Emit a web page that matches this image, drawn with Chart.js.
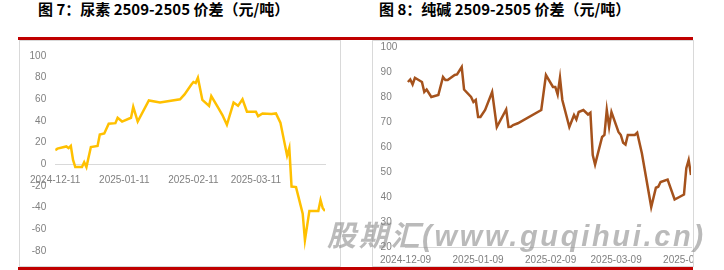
<!DOCTYPE html>
<html>
<head>
<meta charset="utf-8">
<script src="https://cdn.jsdelivr.net/npm/chart.js@4.4.1/dist/chart.umd.min.js"></script>
<style>
  body { margin: 0; width: 724px; height: 270px; background: #fff; position: relative; overflow: hidden; }
  .title { position: absolute; top: 1px; font: bold 15px/16px "Noto Sans CJK SC", sans-serif; color: #000; white-space: nowrap; }
  .redline { position: absolute; left: 18px; width: 675px; height: 3px; background: #c00000; }
  .box { position: absolute; top: 40px; width: 322px; height: 227px; border: 1px solid #d9d9d9; box-sizing: border-box; overflow: hidden; }
  .box canvas { position: absolute; left: 0; top: 0; }
  .wm { position: absolute; left: 327px; top: 221px; font: italic bold 29px/30px "Liberation Sans", "Noto Sans CJK SC", sans-serif; letter-spacing: 2.7px; color: rgba(140, 140, 140, 0.6); white-space: nowrap; }
</style>
</head>
<body>
<div class="title" style="left:38px">图 7：尿素 2509-2505 价差（元/吨）</div>
<div class="title" style="left:379px">图 8：纯碱 2509-2505 价差（元/吨）</div>
<div class="redline" style="top:37px"></div>
<div class="box" style="left:19px"><canvas id="ureaChart" width="320" height="225"></canvas></div>
<div class="box" style="left:372px"><canvas id="sodaChart" width="360" height="225"></canvas></div>
<div class="redline" style="top:267px"></div>
<div class="wm">股期汇(www.guqihui.cn)</div>

<script>
// 尿素 2509-2505 价差
const ureaDates = [
	"2024-12-11", "2024-12-12", "2024-12-16", "2024-12-17", "2024-12-18", "2024-12-19", "2024-12-20",
	"2024-12-23", "2024-12-24", "2024-12-25", "2024-12-27", "2024-12-30", "2024-12-31", "2025-01-02",
	"2025-01-04", "2025-01-07", "2025-01-08", "2025-01-10", "2025-01-14", "2025-01-15", "2025-01-17",
	"2025-01-22", "2025-01-27", "2025-02-05", "2025-02-07", "2025-02-10", "2025-02-11", "2025-02-12",
	"2025-02-13", "2025-02-15", "2025-02-18", "2025-02-19", "2025-02-22", "2025-02-24", "2025-02-26",
	"2025-03-01", "2025-03-03", "2025-03-05", "2025-03-07", "2025-03-11", "2025-03-12", "2025-03-14",
	"2025-03-18", "2025-03-20", "2025-03-22", "2025-03-25", "2025-03-26", "2025-03-27", "2025-03-29",
	"2025-04-01", "2025-04-02", "2025-04-04", "2025-04-08", "2025-04-09", "2025-04-10", "2025-04-11",
];
const ureaSpread = [
	13, 14.5, 16.5, 15, 17, 4, -2.5,
	-2.5, 2, -2.5, 16, 17, 27.5, 28.5,
	37.5, 38, 43, 39.5, 43, 53, 39.5,
	59, 57, 60, 64.5, 73.5, 76, 75,
	80, 59.5, 54, 63, 52.5, 45.5, 36.5,
	57, 54, 60, 48.5, 48.5, 44.5, 47,
	46.5, 47, 38.5, 8, 15, -20.5, -21,
	-45.5, -70, -43, -43, -33, -40.5, -43,
];
const ureaTicks = ["2024-12-11", "2025-01-11", "2025-02-11", "2025-03-11"];

// 纯碱 2509-2505 价差
const sodaDates = [
	"2024-12-10", "2024-12-11", "2024-12-12", "2024-12-13", "2024-12-16", "2024-12-17", "2024-12-18",
	"2024-12-20", "2024-12-23", "2024-12-25", "2024-12-26", "2024-12-27", "2024-12-30", "2024-12-31",
	"2025-01-02", "2025-01-03", "2025-01-06", "2025-01-07", "2025-01-08", "2025-01-09", "2025-01-10",
	"2025-01-12", "2025-01-15", "2025-01-17", "2025-01-21", "2025-01-22", "2025-01-23", "2025-01-24",
	"2025-01-26", "2025-02-05", "2025-02-07", "2025-02-10", "2025-02-11", "2025-02-12", "2025-02-13",
	"2025-02-14", "2025-02-17", "2025-02-19", "2025-02-20", "2025-02-21", "2025-02-23", "2025-02-25",
	"2025-02-26", "2025-02-27", "2025-02-28", "2025-03-03", "2025-03-04", "2025-03-05", "2025-03-06",
	"2025-03-07", "2025-03-10", "2025-03-11", "2025-03-12", "2025-03-13", "2025-03-14", "2025-03-17",
	"2025-03-18", "2025-03-20", "2025-03-24", "2025-03-26", "2025-03-27", "2025-03-28", "2025-03-31",
	"2025-04-03", "2025-04-07", "2025-04-08", "2025-04-09", "2025-04-10",
];
const sodaSpread = [
	86, 87, 85, 87.7, 86, 82, 83,
	80, 80.8, 88, 86.8, 86.8, 88.8, 89,
	92, 83, 80, 78, 78.8, 72, 72,
	74.8, 82, 68, 75, 68, 68.1, 68.8,
	69.5, 74.8, 88.8, 84, 84, 81, 87.7,
	78.8, 68, 72.8, 71, 74, 74.8, 73,
	73.7, 56.8, 53, 64, 64.8, 74.8, 68,
	74, 66, 64.8, 61.7, 61, 64.8, 64.8,
	65.7, 57.5, 36, 43.7, 44.1, 46, 47,
	39, 41, 51.5, 54.8, 48.8,
];
const sodaTicks = ["2024-12-09", "2025-01-09", "2025-02-09", "2025-03-09", "2025-04-09"];

function dayOf(d, start) {
	return (Date.parse(d) - Date.parse(start)) / 86400000;
}

const tickFont = { family: "Liberation Sans", size: 10 };
const tickColor = "#808080";

// left chart, x axis sits on the zero line
new Chart(document.getElementById("ureaChart"), {
	type: "line",
	data: {
		datasets: [{
			data: ureaDates.map((d, i) => ({ x: dayOf(d, ureaTicks[0]), y: ureaSpread[i] })),
			borderColor: "#FFC000",
			borderWidth: 2.5,
			pointRadius: 0,
			tension: 0,
			fill: false,
		}],
	},
	options: {
		responsive: false,
		animation: false,
		layout: { padding: { left: 0, right: 15, top: 14, bottom: 12 } },
		plugins: { legend: { display: false }, tooltip: { enabled: false } },
		scales: {
			x: {
				type: "linear",
				position: { y: 0 },
				min: 0,
				max: 121,
				grid: { display: false, drawTicks: false },
				border: { display: true, color: "#d9d9d9", width: 1 },
				afterBuildTicks: (s) => {
					s.ticks = ureaTicks.map((t) => ({ value: dayOf(t, ureaTicks[0]) }));
				},
				ticks: {
					autoSkip: false,
					maxRotation: 0,
					padding: 10,
					color: tickColor,
					font: tickFont,
					callback: (v, i) => ureaTicks[i],
				},
			},
			y: {
				min: -80,
				max: 100,
				grid: { display: false, drawTicks: false },
				border: { display: false },
				afterFit: (s) => { s.width = 35; },
				ticks: { stepSize: 20, padding: 9, color: tickColor, font: tickFont },
			},
		},
	},
});

// right chart, wider than its frame so the last date label is cut off
new Chart(document.getElementById("sodaChart"), {
	type: "line",
	data: {
		datasets: [{
			data: sodaDates.map((d, i) => ({ x: dayOf(d, sodaTicks[0]), y: sodaSpread[i] })),
			borderColor: "#A5521C",
			borderWidth: 2.5,
			pointRadius: 0,
			tension: 0,
			fill: false,
		}],
	},
	options: {
		responsive: false,
		animation: false,
		layout: { padding: { left: 2, right: 42, top: 6, bottom: 0 } },
		plugins: { legend: { display: false }, tooltip: { enabled: false } },
		scales: {
			x: {
				type: "linear",
				min: 0,
				max: 122,
				grid: { display: false, drawTicks: false },
				border: { display: true, color: "#d9d9d9", width: 1 },
				afterFit: (s) => { s.height = 19; },
				afterBuildTicks: (s) => {
					s.ticks = sodaTicks.map((t) => ({ value: dayOf(t, sodaTicks[0]) }));
				},
				ticks: {
					autoSkip: false,
					maxRotation: 0,
					padding: 7,
					color: tickColor,
					font: tickFont,
					callback: (v, i) => sodaTicks[i],
				},
			},
			y: {
				min: 20,
				max: 100,
				grid: { display: false, drawTicks: false },
				border: { display: false },
				afterFit: (s) => { s.width = 25; },
				ticks: { stepSize: 10, padding: 0, crossAlign: "far", color: tickColor, font: tickFont },
			},
		},
	},
});
</script>
</body>
</html>
